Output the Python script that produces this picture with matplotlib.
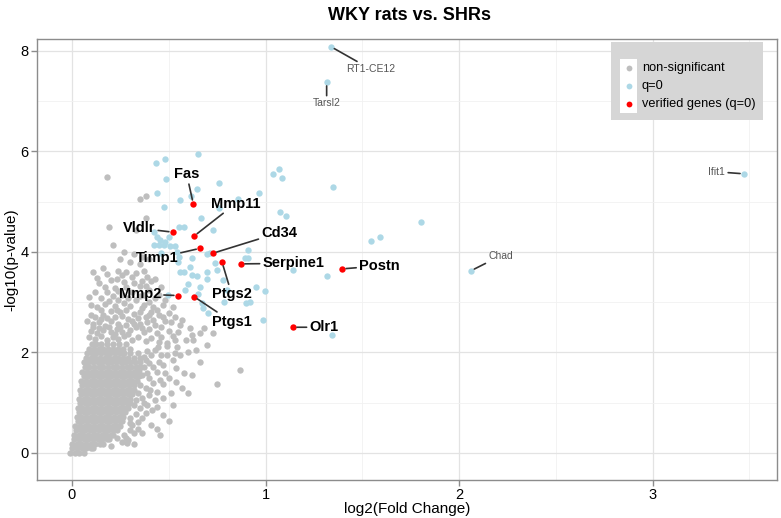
import matplotlib
matplotlib.use('Agg')
import matplotlib.pyplot as plt
from matplotlib.patches import Rectangle

plt.rcParams['font.family'] = ['Liberation Sans', 'DejaVu Sans']

# ---------------- data ----------------
# dense core of non-significant genes, typed row by row (y level, x values)
grey_row_y = [0.00, 0.09, 0.18, 0.27, 0.36, 0.45, 0.54, 0.63, 0.72, 0.81, 0.90, 0.99,
              1.08, 1.17, 1.26, 1.35, 1.44, 1.53, 1.62, 1.71, 1.80, 1.89, 1.98, 2.07, 2.16]
grey_row_x = [
    [-0.01, 0.014, 0.038, 0.06],
    [0.002, 0.026, 0.05, 0.074, 0.098, 0.11],
    [0.0, 0.024, 0.048, 0.072, 0.096, 0.12, 0.144, 0.16],
    [0.012, 0.036, 0.06, 0.084, 0.108, 0.132, 0.156, 0.18, 0.19],
    [0.01, 0.034, 0.058, 0.082, 0.106, 0.13, 0.154, 0.178, 0.2, 0.21],
    [0.02, 0.044, 0.068, 0.092, 0.116, 0.14, 0.164, 0.188, 0.212, 0.23],
    [0.018, 0.042, 0.066, 0.09, 0.114, 0.138, 0.162, 0.186, 0.21, 0.234, 0.25],
    [0.03, 0.054, 0.078, 0.102, 0.126, 0.15, 0.174, 0.198, 0.222, 0.246, 0.26],
    [0.025, 0.049, 0.073, 0.097, 0.121, 0.145, 0.169, 0.193, 0.217, 0.241, 0.265],
    [0.036, 0.06, 0.084, 0.108, 0.132, 0.156, 0.18, 0.204, 0.228, 0.252, 0.276],
    [0.03, 0.054, 0.078, 0.102, 0.126, 0.15, 0.174, 0.198, 0.222, 0.246, 0.27, 0.29],
    [0.042, 0.066, 0.09, 0.114, 0.138, 0.162, 0.186, 0.21, 0.234, 0.258, 0.282, 0.30],
    [0.036, 0.06, 0.084, 0.108, 0.132, 0.156, 0.18, 0.204, 0.228, 0.252, 0.276, 0.30],
    [0.048, 0.072, 0.096, 0.12, 0.144, 0.168, 0.192, 0.216, 0.24, 0.264, 0.288, 0.312],
    [0.042, 0.066, 0.09, 0.114, 0.138, 0.162, 0.186, 0.21, 0.234, 0.258, 0.282, 0.306, 0.32],
    [0.054, 0.078, 0.102, 0.126, 0.15, 0.174, 0.198, 0.222, 0.246, 0.27, 0.294, 0.318],
    [0.048, 0.072, 0.096, 0.12, 0.144, 0.168, 0.192, 0.216, 0.24, 0.264, 0.288, 0.312, 0.336],
    [0.06, 0.084, 0.108, 0.132, 0.156, 0.18, 0.204, 0.228, 0.252, 0.276, 0.30, 0.324, 0.345],
    [0.054, 0.078, 0.102, 0.126, 0.15, 0.174, 0.198, 0.222, 0.246, 0.27, 0.294, 0.318, 0.342],
    [0.066, 0.09, 0.114, 0.138, 0.162, 0.186, 0.21, 0.234, 0.258, 0.282, 0.306, 0.33, 0.354],
    [0.06, 0.084, 0.108, 0.132, 0.156, 0.18, 0.204, 0.228, 0.252, 0.276, 0.30, 0.324, 0.35],
    [0.072, 0.096, 0.12, 0.144, 0.168, 0.192, 0.216, 0.24, 0.264, 0.29, 0.318, 0.35],
    [0.078, 0.102, 0.126, 0.15, 0.174, 0.198, 0.222, 0.246, 0.27, 0.30, 0.34],
    [0.09, 0.114, 0.138, 0.162, 0.186, 0.21, 0.236, 0.265, 0.30],
    [0.102, 0.126, 0.152, 0.18, 0.21, 0.245, 0.28],
]

# scattered non-significant genes (log2FC, -log10 p)
grey_sparse_xy = [
    (0.09, 2.30), (0.12, 2.26), (0.15, 2.32), (0.18, 2.24), (0.21, 2.30), (0.24, 2.26),
    (0.27, 2.33), (0.31, 2.25), (0.34, 2.31), (0.38, 2.22), (0.41, 2.29), (0.45, 2.20),
    (0.49, 2.18), (0.53, 2.24), (0.59, 2.25), (0.10, 2.42), (0.13, 2.38), (0.16, 2.45),
    (0.20, 2.40), (0.23, 2.47), (0.26, 2.40), (0.30, 2.44), (0.33, 2.50), (0.37, 2.40),
    (0.40, 2.46), (0.44, 2.38), (0.46, 2.50), (0.50, 2.42), (0.56, 2.54), (0.61, 2.48),
    (0.66, 2.38), (0.73, 2.38), (0.68, 2.48), (0.11, 2.56), (0.14, 2.60), (0.17, 2.53),
    (0.20, 2.62), (0.24, 2.57), (0.28, 2.54), (0.31, 2.63), (0.35, 2.57), (0.39, 2.60),
    (0.43, 2.55), (0.48, 2.62), (0.51, 2.61), (0.08, 2.62), (0.12, 2.70), (0.16, 2.74),
    (0.20, 2.82), (0.23, 2.84), (0.26, 2.72), (0.28, 2.84), (0.32, 2.76), (0.35, 2.81),
    (0.38, 2.70), (0.40, 2.74), (0.45, 2.74), (0.44, 2.85), (0.50, 2.78), (0.13, 2.90),
    (0.17, 2.96), (0.22, 2.92), (0.27, 2.98), (0.33, 3.04), (0.30, 2.93), (0.37, 2.95),
    (0.40, 3.01), (0.42, 2.90), (0.47, 2.95), (0.15, 3.08), (0.18, 3.20), (0.14, 3.37),
    (0.21, 3.12), (0.26, 3.14), (0.31, 3.20), (0.37, 3.14), (0.40, 3.25), (0.45, 3.14),
    (0.46, 3.31), (0.35, 3.33), (0.28, 3.30), (0.22, 3.28), (0.11, 3.59), (0.16, 3.67),
    (0.20, 3.44), (0.23, 3.46), (0.28, 3.60), (0.31, 3.50), (0.33, 3.57), (0.36, 3.42),
    (0.39, 3.50), (0.41, 3.41), (0.26, 3.54), (0.21, 4.13), (0.19, 4.49), (0.33, 4.43),
    (0.35, 3.75), (0.30, 3.80), (0.38, 4.67), (0.35, 5.05), (0.38, 5.10), (0.18, 5.48),
    (0.27, 4.00), (0.32, 3.95), (0.36, 3.90), (0.25, 3.85), (0.40, 3.86),
    (0.20, 0.13), (0.26, 0.22), (0.285, 0.20), (0.32, 0.17), (0.23, 0.30), (0.34, 0.62),
    (0.36, 0.69), (0.41, 0.56), (0.44, 0.47), (0.455, 0.36), (0.50, 0.64), (0.30, 0.45),
    (0.31, 0.55), (0.33, 0.78), (0.386, 0.95), (0.412, 0.85), (0.44, 0.92), (0.405, 1.25),
    (0.438, 1.22), (0.472, 1.37), (0.456, 1.45), (0.51, 1.19), (0.54, 1.42), (0.60, 1.20),
    (0.54, 1.68), (0.49, 1.95), (0.532, 1.98), (0.446, 2.10), (0.49, 2.12), (0.36, 1.10),
    (0.38, 1.30), (0.40, 1.50), (0.42, 1.70), (0.38, 1.85), (0.41, 1.95), (0.45, 1.80),
    (0.48, 1.60), (0.35, 0.90), (0.37, 1.00), (0.34, 1.20), (0.30, 0.70), (0.32, 0.40),
    (0.28, 0.30), (0.748, 1.37), (0.868, 1.65), (0.664, 1.80), (0.627, 2.25), (0.541, 2.11),
    (0.30, 0.60), (0.32, 0.95), (0.33, 1.05), (0.35, 1.35), (0.36, 1.55), (0.37, 1.70),
    (0.39, 1.60), (0.40, 1.15), (0.42, 1.40), (0.43, 1.05), (0.44, 1.62), (0.46, 1.95),
    (0.47, 1.75), (0.39, 2.02), (0.43, 2.05), (0.50, 1.50), (0.52, 1.85), (0.56, 1.95),
    (0.58, 1.60), (0.47, 1.10), (0.38, 0.80), (0.34, 0.48), (0.27, 0.35), (0.29, 0.25),
    (0.36, 0.40), (0.47, 0.75), (0.52, 0.95), (0.57, 1.30), (0.62, 1.55), (0.64, 2.05),
    (0.70, 2.15), (0.60, 2.00), (0.345, 1.65), (0.37, 1.90), (0.40, 1.78),
    (0.11, 2.50), (0.14, 2.48), (0.19, 2.50), (0.22, 2.36), (0.25, 2.50), (0.29, 2.37),
    (0.32, 2.56), (0.36, 2.48), (0.42, 2.64), (0.46, 2.30), (0.52, 2.33), (0.55, 2.40),
    (0.57, 2.64), (0.62, 2.35), (0.15, 2.66), (0.18, 2.69), (0.22, 2.70), (0.25, 2.80),
    (0.29, 2.66), (0.34, 2.68), (0.36, 2.88), (0.41, 2.80), (0.47, 2.70), (0.53, 2.70),
    (0.10, 2.75), (0.15, 2.85), (0.19, 3.02), (0.24, 3.05), (0.29, 3.08), (0.35, 3.12),
    (0.43, 3.08), (0.48, 3.05), (0.52, 2.90), (0.12, 3.20), (0.17, 3.30), (0.24, 3.22),
    (0.27, 3.40), (0.32, 3.38), (0.38, 3.33), (0.43, 3.45), (0.13, 3.48), (0.18, 3.55),
    (0.24, 3.62), (0.37, 3.62), (0.09, 3.10), (0.10, 2.95),
]

# q = 0 genes (light blue)
blue_xy = [
    (0.651, 5.94), (0.434, 5.77), (0.482, 5.84), (0.486, 5.45), (0.761, 5.37), (0.646, 5.24),
    (0.438, 5.16), (0.558, 5.03), (0.613, 5.10), (0.477, 4.90), (0.761, 4.88), (0.856, 5.05),
    (0.968, 5.16), (1.040, 5.55), (1.071, 5.64), (1.084, 5.47), (1.077, 4.79), (1.104, 4.72),
    (0.667, 4.67), (1.347, 5.29), (1.804, 4.60), (1.544, 4.21), (1.592, 4.30), (1.316, 3.52),
    (1.344, 2.34), (0.425, 4.40), (0.551, 4.49), (0.579, 4.49), (0.455, 4.23), (0.482, 4.20),
    (0.506, 4.12), (0.534, 4.12), (0.424, 4.14), (0.450, 4.14), (0.477, 4.14), (0.541, 4.00),
    (0.553, 3.90), (0.549, 3.80), (0.619, 3.87), (0.610, 3.70), (0.579, 3.59), (0.558, 3.59),
    (0.619, 3.54), (0.648, 3.51), (0.696, 3.95), (0.739, 3.78), (0.748, 3.64), (0.582, 3.24),
    (0.653, 3.16), (0.679, 2.88), (0.704, 2.78), (0.495, 3.14), (0.787, 3.01), (0.920, 3.01),
    (0.900, 2.99), (0.997, 3.23), (0.986, 2.64), (0.911, 3.87), (0.894, 3.87), (0.911, 4.04),
    (1.144, 3.64), (0.730, 4.43), (0.803, 3.24), (0.782, 3.44), (0.696, 3.60), (0.713, 3.97),
    (0.600, 3.35), (0.700, 3.45), (0.660, 3.30), (0.950, 3.30), (0.670, 2.98),
    (0.44, 4.30), (0.50, 4.30), (0.46, 3.98),
]

# labelled q = 0 genes (small grey labels)
small_genes = ['RT1-CE12', 'Tarsl2', 'Ifit1', 'Chad']
small_x = [1.337, 1.316, 3.474, 2.060]
small_y = [8.08, 7.38, 5.55, 3.62]

# verified genes (red)
red_genes = ['Fas', 'Mmp11', 'Vldlr', 'Timp1', 'Cd34', 'Ptgs2', 'Serpine1',
             'Postn', 'Mmp2', 'Ptgs1', 'Olr1']
red_x = [0.627, 0.630, 0.522, 0.663, 0.727, 0.775, 0.872, 1.395, 0.548, 0.630, 1.141]
red_y = [4.95, 4.31, 4.39, 4.07, 3.97, 3.80, 3.76, 3.66, 3.13, 3.11, 2.50]

# label placement (layout only)
red_label_pos = {
    'Fas': (0.593, 5.54), 'Mmp11': (0.846, 4.96), 'Vldlr': (0.347, 4.47),
    'Timp1': (0.438, 3.87), 'Cd34': (1.071, 4.38), 'Ptgs2': (0.825, 3.16),
    'Serpine1': (1.144, 3.77), 'Postn': (1.588, 3.72), 'Mmp2': (0.351, 3.16),
    'Ptgs1': (0.825, 2.61), 'Olr1': (1.302, 2.50),
}
small_label_pos = {
    'RT1-CE12': (1.544, 7.63), 'Tarsl2': (1.316, 6.95),
    'Ifit1': (3.333, 5.59), 'Chad': (2.215, 3.92),
}

x_ticks = [0, 1, 2, 3]
y_ticks = [0, 2, 4, 6, 8]
legend_labels = ['non-significant', 'q=0', 'verified genes (q=0)']

# ---------------- styling ----------------
W, H = 781, 518
GREY = '#bebebe'
BLUE = '#add8e6'
RED = '#ff0000'
FRAME = '#8c8c8c'

fig = plt.figure(figsize=(W / 100, H / 100), dpi=100)
fig.patch.set_facecolor('white')
pl, pr, pt, pb = 37, 777, 39, 480
ax = fig.add_axes([pl / W, 1 - pb / H, (pr - pl) / W, (pb - pt) / H])

x0px, ux = 72.0, 193.5
y0px, uy = 453.0, 50.3
ax.set_xlim((pl - x0px) / ux, (pr - x0px) / ux)
ax.set_ylim((y0px - pb) / uy, (y0px - pt) / uy)

ax.set_xticks(x_ticks)
ax.set_xticklabels([str(t) for t in x_ticks])
ax.set_yticks(y_ticks)
ax.set_yticklabels([str(t) for t in y_ticks])
ax.set_xticks([0.5, 1.5, 2.5, 3.5], minor=True)
ax.set_yticks([1, 3, 5, 7], minor=True)
ax.grid(which='major', color='#e3e3e3', linewidth=0.9)
ax.grid(which='minor', color='#f1f1f1', linewidth=0.6)
ax.set_axisbelow(True)
ax.tick_params(which='major', length=4, width=1, color=FRAME, labelsize=10.5,
               labelcolor='black', pad=2)
ax.tick_params(which='minor', length=0)
for s in ax.spines.values():
    s.set_color(FRAME)
    s.set_linewidth(1.0)

gx = [x for row in grey_row_x for x in row]
gy = [y for y, row in zip(grey_row_y, grey_row_x) for _ in row]
gx += [p[0] for p in grey_sparse_xy]
gy += [p[1] for p in grey_sparse_xy]
ms = 21
ax.scatter(gx, gy, s=ms, color=GREY, linewidths=0, zorder=2)
ax.scatter([p[0] for p in blue_xy] + small_x, [p[1] for p in blue_xy] + small_y,
           s=ms, color=BLUE, linewidths=0, zorder=3)
ax.scatter(red_x, red_y, s=ms, color=RED, linewidths=0, zorder=4)

for g, x, y in zip(small_genes, small_x, small_y):
    tx, ty = small_label_pos[g]
    ax.annotate(g, xy=(x, y), xytext=(tx, ty), ha='center', va='center',
                fontsize=7.5, color='#555555', zorder=5,
                arrowprops=dict(arrowstyle='-', color='#333333', lw=1.2,
                                shrinkA=0, shrinkB=3))
for g, x, y in zip(red_genes, red_x, red_y):
    tx, ty = red_label_pos[g]
    ax.annotate(g, xy=(x, y), xytext=(tx, ty), ha='center', va='center',
                fontsize=10.5, fontweight='bold', color='black', zorder=6,
                arrowprops=dict(arrowstyle='-', color='#333333', lw=1.2,
                                shrinkA=0, shrinkB=3))

# axis labels and title
ax.set_xlabel('log2(Fold Change)', fontsize=11)
ax.xaxis.set_label_coords(0.5, (pb - 509) / (pb - pt))
ax.xaxis.label.set_va('center')
ax.set_ylabel('-log10(p-value)', fontsize=11)
ax.yaxis.set_label_coords((11 - pl) / (pr - pl), 0.5)
ax.yaxis.label.set_va('center')
fig.text(410 / W, 1 - 16 / H, 'WKY rats vs. SHRs', ha='center', va='center',
         fontsize=13, fontweight='bold')

# legend (ggplot-style box)
def fx(px):
    return px / W

def fy(py):
    return 1 - py / H

lg_l, lg_r, lg_t, lg_b = 611, 763, 42, 120
fig.add_artist(Rectangle((fx(lg_l), fy(lg_b)), (lg_r - lg_l) / W, (lg_b - lg_t) / H,
                         transform=fig.transFigure, facecolor='#d6d6d6',
                         edgecolor='none', zorder=10))
key_cy = [68, 86, 104]
key_cols = [GREY, BLUE, RED]
for cy, col, lab in zip(key_cy, key_cols, legend_labels):
    fig.add_artist(Rectangle((fx(620), fy(cy + 8.5)), 17 / W, 17 / H,
                             transform=fig.transFigure, facecolor='white',
                             edgecolor='none', zorder=11))
    fig.add_artist(plt.Line2D([fx(628.5)], [fy(cy)], marker='o', markersize=4.2,
                              color=col, markeredgewidth=0, linestyle='',
                              transform=fig.transFigure, zorder=12))
    fig.text(fx(642), fy(cy), lab, ha='left', va='center', fontsize=9.2,
             color='black', zorder=12)

fig.savefig('out.png', dpi=100)
